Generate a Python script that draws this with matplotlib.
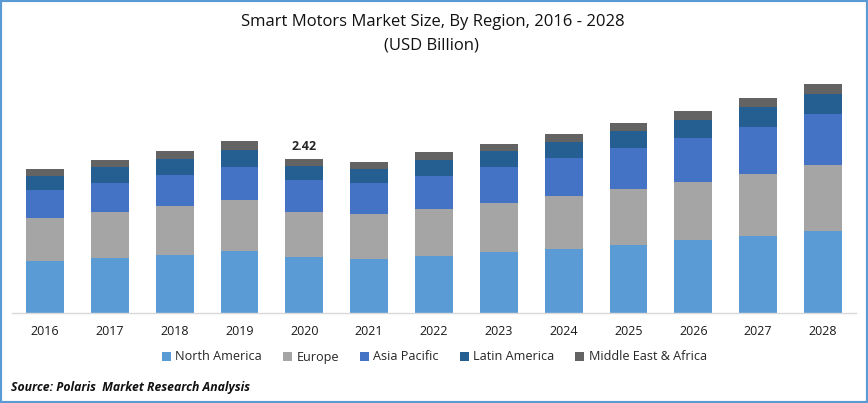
import matplotlib.pyplot as plt
import numpy as np

years = ['2016', '2017', '2018', '2019', '2020', '2021', '2022',
         '2023', '2024', '2025', '2026', '2027', '2028']
north_america = [0.82, 0.87, 0.91, 0.97, 0.88, 0.85, 0.90, 0.96, 1.01, 1.07, 1.15, 1.21, 1.29]
europe = [0.68, 0.72, 0.77, 0.80, 0.71, 0.71, 0.74, 0.77, 0.83, 0.88, 0.91, 0.97, 1.04]
asia_pacific = [0.44, 0.46, 0.49, 0.53, 0.50, 0.49, 0.52, 0.57, 0.60, 0.64, 0.69, 0.75, 0.80]
latin_america = [0.22, 0.24, 0.25, 0.27, 0.22, 0.22, 0.24, 0.24, 0.25, 0.27, 0.28, 0.31, 0.31]
middle_east = [0.11, 0.11, 0.13, 0.13, 0.11, 0.11, 0.13, 0.12, 0.13, 0.13, 0.14, 0.14, 0.16]

series = [('North America', north_america, '#5b9bd5'),
          ('Europe', europe, '#a5a5a5'),
          ('Asia Pacific', asia_pacific, '#4472c4'),
          ('Latin America', latin_america, '#255e91'),
          ('Middle East & Africa', middle_east, '#636363')]

plt.rcParams['font.family'] = ['Open Sans', 'DejaVu Sans']

W, H = 868, 403
fig = plt.figure(figsize=(W / 100, H / 100), dpi=100)
ax = fig.add_axes([12 / W, 1 - 313 / H, (856 - 12) / W, (313 - 40) / H])

x = np.arange(len(years))
bottom = np.zeros(len(years))
for name, values, color in series:
    ax.bar(x, values, 0.586, bottom=bottom, color=color, label=name)
    bottom += np.array(values)

ax.text(x[4], bottom[4] + 0.09, '2.42', ha='center', va='bottom', fontsize=9,
        fontweight='bold', color='#262626')

# 64.83 px between bars
ax.set_xlim(-(45 - 12) / 64.83, 12 + (856 - 823) / 64.83)
ax.set_ylim(0, 273 / 63.6)
ax.set_yticks([])
ax.set_xticks(x, years)
ax.tick_params(axis='x', length=0, pad=8.5, labelsize=9, labelcolor='#1a1a1a')
for side in ['top', 'left', 'right']:
    ax.spines[side].set_visible(False)
ax.spines['bottom'].set_color('#d9d9d9')
ax.spines['bottom'].set_linewidth(1)

fig.legend(loc='center', bbox_to_anchor=(434.5 / W, 1 - 357 / H), ncol=5, frameon=False,
           fontsize=9.1, handlelength=0.71, handleheight=0.71, handletextpad=0.35,
           columnspacing=1.66, labelcolor='#262626')

fig.text(433 / W, 1 - 22 / H, 'Smart Motors Market Size, By Region, 2016 - 2028',
         ha='center', va='center', fontsize=12, color='#111111')
fig.text(431 / W, 1 - 45 / H, '(USD Billion)', ha='center', va='center', fontsize=12,
         color='#111111')
fig.text(11 / W, 1 - 388 / H, 'Source: Polaris  Market Research Analysis', ha='left', va='center',
         fontsize=8.8, fontweight='bold', fontstyle='italic', color='#111111')

# blue frame around the whole picture
fig.add_artist(plt.Rectangle((0, 0), 1, 1, transform=fig.transFigure, fill=False,
                             edgecolor='#5b9bd5', linewidth=3))

fig.savefig('out.png', dpi=100)
